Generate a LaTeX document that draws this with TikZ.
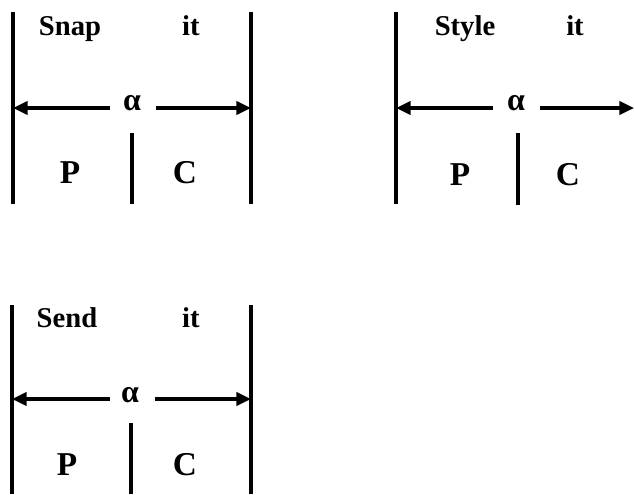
\documentclass[tikz,border=0pt]{standalone}
\usepackage{fontspec}
\setmainfont{Liberation Serif}
\usetikzlibrary{arrows.meta}
\begin{document}
\begin{tikzpicture}[x=0.75pt,y=-0.75pt,
  bar/.style={line width=2.4pt},
  dimline/.style={line width=2.3pt,-{Triangle[length=11pt,width=10pt]}},
  word/.style={font=\bfseries\fontsize{21.5}{26}\selectfont, inner sep=0, anchor=base},
  part/.style={font=\bfseries\fontsize{25}{30}\selectfont, inner sep=0, anchor=base},
  greek/.style={font=\bfseries\fontsize{24}{28}\selectfont, inner sep=0, anchor=base}]
\useasboundingbox (0,0) rectangle (634,494);

% ---- Snap it ----
\coordinate (s1tl) at (13,12);  \coordinate (s1bl) at (13,204);
\coordinate (s1tr) at (251,12); \coordinate (s1br) at (251,204);
\coordinate (s1mt) at (132,133); \coordinate (s1mb) at (132,204);
\coordinate (s1al) at (110,108); \coordinate (s1ar) at (156,108);
\coordinate (s1el) at (13,108);  \coordinate (s1er) at (251,108);
\draw[bar] (s1tl) -- (s1bl);
\draw[bar] (s1tr) -- (s1br);
\draw[bar] (s1mt) -- (s1mb);
\draw[dimline] (s1al) -- (s1el);
\draw[dimline] (s1ar) -- (s1er);
\node[word] (snap) at (70,35) {Snap};
\node[word] (it1) at (191,35) {it};
\node[greek] (al1) at (132,110) {α};
\node[part] (p1) at (70,183) {P};
\node[part] (c1) at (185,183) {C};

% ---- Style it ----
\coordinate (s2tl) at (396,12);  \coordinate (s2bl) at (396,204);
\coordinate (s2mt) at (518,133); \coordinate (s2mb) at (518,205);
\coordinate (s2al) at (493,108); \coordinate (s2ar) at (540,108);
\coordinate (s2el) at (396,108); \coordinate (s2er) at (634,108);
\draw[bar] (s2tl) -- (s2bl);
\draw[bar] (s2mt) -- (s2mb);
\draw[dimline] (s2al) -- (s2el);
\draw[dimline] (s2ar) -- (s2er);
\node[word] (style) at (465,35) {Style};
\node[word] (it2) at (575,35) {it};
\node[greek] (al2) at (516,110) {α};
\node[part] (p2) at (460,185) {P};
\node[part] (c2) at (568,185) {C};

% ---- Send it ----
\coordinate (s3tl) at (12,305);  \coordinate (s3bl) at (12,494);
\coordinate (s3tr) at (251,305); \coordinate (s3br) at (251,494);
\coordinate (s3mt) at (131,423); \coordinate (s3mb) at (131,494);
\coordinate (s3al) at (110,399); \coordinate (s3ar) at (155,399);
\coordinate (s3el) at (12,399);  \coordinate (s3er) at (251,399);
\draw[bar] (s3tl) -- (s3bl);
\draw[bar] (s3tr) -- (s3br);
\draw[bar] (s3mt) -- (s3mb);
\draw[dimline] (s3al) -- (s3el);
\draw[dimline] (s3ar) -- (s3er);
\node[word] (send) at (67,327) {Send};
\node[word] (it3) at (191,327) {it};
\node[greek] (al3) at (130,402) {α};
\node[part] (p3) at (67,475) {P};
\node[part] (c3) at (185,475) {C};
\end{tikzpicture}
\end{document}
